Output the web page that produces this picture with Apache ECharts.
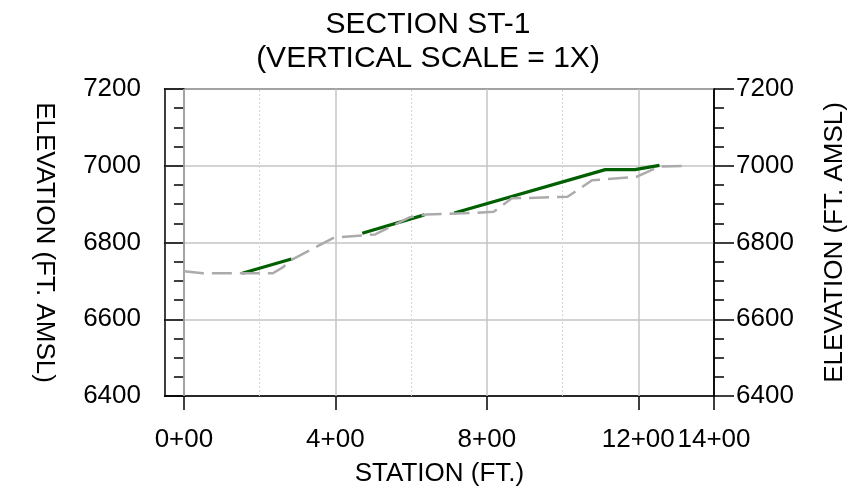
<!DOCTYPE html>
<html>
<head>
<meta charset="utf-8">
<script src="https://cdn.jsdelivr.net/npm/echarts@6/dist/echarts.min.js"></script>
<style>html,body{margin:0;padding:0;background:#fff;}#c{width:856px;height:504px;}</style>
</head>
<body>
<div id="c"></div>
<script>
// ---- data (station ft, elevation ft AMSL) ----
const groundStations = [0, 50, 235, 262, 284, 397, 505, 597, 640, 766, 818, 866, 1013, 1078, 1195, 1256, 1330];
const groundElev     = [6725, 6720, 6720, 6736, 6755, 6813, 6821, 6866, 6873, 6877, 6880, 6915, 6919, 6962, 6971, 6998, 7000];
const greenStations  = [154, 284, null, 471, 635, null, 714, 1113, 1191, 1256];
const greenElev      = [6720, 6757, null, 6824, 6872, null, 6877, 6990, 6990, 7001];
const xTickValues    = [0, 400, 800, 1200, 1400];
const xGridSolid     = [0, 400, 800, 1200];
const xGridDotted    = [200, 600, 1000];
const yMin = 6400, yMax = 7200, yStep = 200;
const xMin = -50, xMax = 1400;

const FONT = '"Liberation Sans", Arial, sans-serif';
function station(v) {
  const h = Math.floor(v / 100), r = Math.round(v % 100);
  return h + '+' + String(r).padStart(2, '0');
}
const ground = groundStations.map((s, i) => [s, groundElev[i]]);
const green = greenStations.map((s, i) => s === null ? [null, null] : [s, greenElev[i]]);

const markData = xGridSolid.map(v => ({ xAxis: v, lineStyle: { color: '#c4c4c4', width: 1.5, type: 'solid' } }))
  .concat(xGridDotted.map(v => ({ xAxis: v, lineStyle: { color: '#d6d6d6', width: 1, type: [2, 2] } })));

const yAxisCommon = {
  type: 'value', min: yMin, max: yMax, interval: yStep,
  axisLine: { show: true, lineStyle: { color: '#000', width: 1.5 } },
  axisTick: { show: true, length: 20, lineStyle: { color: '#000', width: 1.5 } },
  minorTick: { show: true, splitNumber: 4, length: 10, lineStyle: { color: '#000', width: 1.5 } },
  axisLabel: { color: '#000', fontSize: 26, fontFamily: FONT, formatter: v => String(v) },
  name: 'ELEVATION (FT. AMSL)', nameLocation: 'middle',
  nameTextStyle: { color: '#000', fontSize: 26, fontFamily: FONT }
};

const chart = echarts.init(document.getElementById('c'), null, { renderer: 'canvas' });
chart.setOption({
  animation: false,
  backgroundColor: '#fff',
  title: {
    text: 'SECTION ST-1\n(VERTICAL SCALE = 1X)',
    left: 'center', top: 3,
    textStyle: { color: '#000', fontSize: 30, fontWeight: 'normal', fontFamily: FONT, lineHeight: 34, align: 'center' }
  },
  grid: { left: 165, right: 134, top: 89, bottom: 108, show: true, borderColor: '#000', borderWidth: 1.5, backgroundColor: 'transparent' },
  xAxis: {
    type: 'value', min: xMin, max: xMax,
    axisLine: { show: true, onZero: false, lineStyle: { color: '#000', width: 1.5 } },
    axisTick: { show: true, length: 14, customValues: xTickValues, lineStyle: { color: '#000', width: 1.5 } },
    axisLabel: { color: '#000', fontSize: 26, fontFamily: FONT, margin: 31, customValues: xTickValues, formatter: station },
    splitLine: { show: false },
    name: 'STATION (FT.)', nameLocation: 'middle', nameGap: 65,
    nameTextStyle: { color: '#000', fontSize: 26, fontFamily: FONT }
  },
  yAxis: [
    Object.assign({}, yAxisCommon, {
      position: 'left', nameRotate: -90, nameGap: 108,
      axisLabel: Object.assign({}, yAxisCommon.axisLabel, { margin: 24 }),
      splitLine: { show: true, lineStyle: { color: '#c4c4c4', width: 1.5 } }
    }),
    Object.assign({}, yAxisCommon, {
      position: 'right', nameRotate: 90, nameGap: 108,
      axisLabel: Object.assign({}, yAxisCommon.axisLabel, { margin: 22 }),
      splitLine: { show: false }
    })
  ],
  series: [
    {
      type: 'line', data: ground, showSymbol: false, symbol: 'none', z: 3,
      lineStyle: { color: '#ababab', width: 2.5, type: [20, 8] },
      markLine: { silent: true, symbol: 'none', label: { show: false }, z: 1, data: markData }
    },
    {
      type: 'line', data: green, showSymbol: false, symbol: 'none', connectNulls: false, z: 2,
      lineStyle: { color: '#005f00', width: 3.2 }
    }
  ]
});
</script>
</body>
</html>
